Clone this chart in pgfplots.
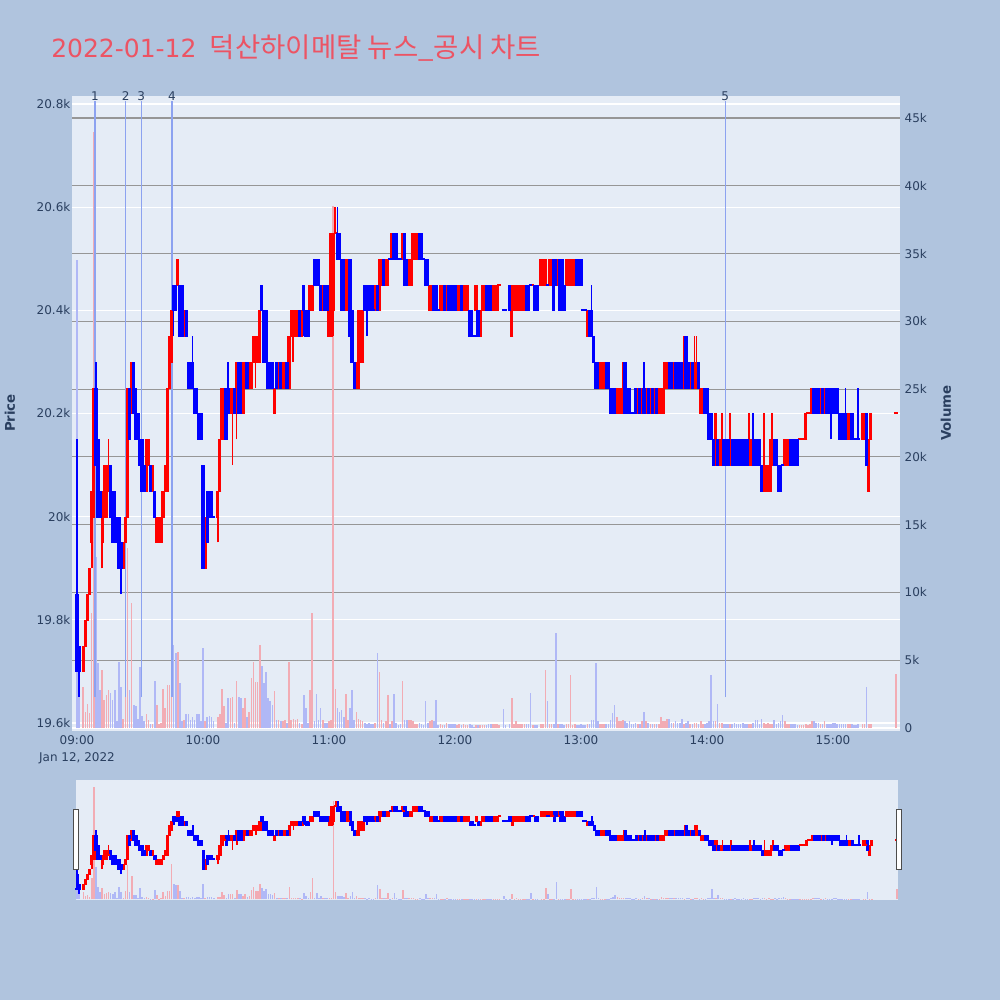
\documentclass[border=0pt]{standalone}
\usepackage{pgfplots}
\pgfplotsset{compat=1.18}
\usepackage{pgfplotstable}
\usepackage{fontspec}
\setmainfont{DejaVu Sans}
\newfontfamily\krfont[Scale=1.10]{Noto Sans CJK KR}
\definecolor{bgpaper}{RGB}{176,196,222}
\definecolor{bgplot}{RGB}{229,236,246}
\definecolor{tickc}{RGB}{42,63,95}
\definecolor{titlec}{RGB}{236,84,100}
\definecolor{vgrid}{RGB}{150,150,150}
\definecolor{newsc}{RGB}{140,162,240}
\definecolor{volred}{RGB}{242,172,180}
\definecolor{volblue}{RGB}{176,184,246}

\pgfplotstableread{
t d o h l c v
0 0 19850 20150 19700 19700 34500
1 0 19750 19750 19650 19700 3000
3 1 19700 19750 19700 19750 3000
4 1 19750 19800 19750 19800 1200
5 1 19800 19850 19800 19850 1800
6 1 19850 19900 19850 19900 1100
7 1 19950 20050 19900 20050 8500
8 1 20000 20250 20000 20250 44000
9 0 20250 20300 20100 20100 12600
10 0 20150 20150 20000 20000 4800
11 0 20050 20050 20000 20000 2800
12 1 19950 20050 19900 20050 4300
13 1 20000 20100 20000 20100 2100
14 1 20000 20100 20000 20100 2400
15 1 20050 20150 20050 20100 2800
16 0 20100 20100 20000 20000 2600
17 0 20050 20050 19950 19950 2100
18 0 20050 20050 19950 19950 2800
19 0 20000 20000 19950 19950 500
20 0 20000 20000 19900 19900 4900
21 0 19950 19950 19850 19900 3000
22 1 19900 19950 19900 19950 700
23 1 19950 20000 19950 20000 3300
24 1 20000 20250 20000 20250 13300
25 0 20250 20250 20150 20150 2800
26 1 20200 20300 20200 20300 9200
27 0 20300 20300 20200 20200 1700
28 0 20250 20250 20150 20150 1600
29 0 20200 20200 20150 20150 700
30 0 20150 20150 20100 20100 4500
31 0 20150 20150 20050 20050 900
32 0 20100 20100 20050 20050 500
33 1 20050 20150 20050 20150 1000
34 1 20100 20150 20100 20150 600
35 0 20100 20100 20050 20050 300
36 1 20050 20100 20050 20100 300
37 0 20050 20050 20000 20000 3500
38 1 19950 20000 19950 20000 1700
39 1 19950 20000 19950 20000 300
40 1 19950 20000 19950 20000 400
41 1 20000 20050 20000 20050 2900
42 1 20050 20100 20050 20100 1500
43 1 20050 20250 20050 20250 3200
44 1 20250 20350 20250 20350 3200
45 1 20300 20400 20300 20400 13900
46 0 20450 20450 20350 20400 6100
47 0 20450 20450 20400 20400 5500
48 1 20450 20500 20450 20500 5600
49 0 20450 20450 20350 20350 3300
50 0 20450 20450 20350 20350 500
51 1 20350 20400 20350 20400 600
52 0 20400 20400 20350 20350 1000
53 0 20300 20300 20250 20250 1000
54 0 20300 20300 20250 20250 600
55 0 20300 20350 20250 20250 800
56 0 20250 20250 20200 20200 600
57 0 20250 20250 20200 20200 1000
58 0 20200 20200 20150 20150 1000
59 0 20200 20200 20150 20150 500
60 0 20100 20100 19900 19900 5900
61 1 19900 20000 19900 20000 500
62 0 20050 20050 19950 19950 800
63 0 20050 20050 20000 20000 900
64 0 20050 20050 20000 20000 800
65 0 20000 20000 20000 20000 500
67 1 20000 20050 19950 20050 800
68 1 20050 20150 20050 20150 1000
69 1 20150 20250 20150 20250 2900
70 1 20200 20250 20200 20250 1600
71 0 20250 20250 20150 20150 400
72 0 20250 20300 20200 20200 2200
73 1 20200 20250 20200 20250 2200
74 1 20200 20250 20100 20250 2300
75 0 20250 20250 20200 20200 400
76 1 20200 20300 20150 20300 3500
77 0 20300 20300 20200 20200 2300
78 0 20300 20300 20200 20200 2200
79 1 20200 20300 20200 20300 1500
80 1 20250 20300 20250 20300 2200
81 0 20300 20300 20250 20250 800
82 1 20250 20300 20250 20300 1200
83 1 20250 20300 20250 20300 3700
84 1 20300 20350 20300 20350 4900
85 1 20300 20350 20250 20350 3400
86 1 20300 20350 20300 20350 3400
87 1 20300 20400 20300 20400 6100
88 0 20450 20450 20400 20400 4600
89 0 20400 20400 20300 20300 3300
90 0 20400 20400 20300 20300 4100
91 0 20300 20300 20250 20250 2200
92 0 20300 20300 20250 20250 2000
93 0 20300 20300 20250 20250 1700
94 1 20200 20250 20200 20250 2700
95 0 20300 20300 20250 20250 600
96 1 20250 20300 20250 20300 600
97 0 20300 20300 20250 20250 500
98 1 20250 20300 20250 20300 500
99 1 20250 20300 20250 20300 600
100 0 20300 20300 20250 20250 400
101 1 20250 20350 20250 20350 4900
102 1 20350 20400 20350 20400 600
103 1 20350 20400 20300 20400 700
104 1 20350 20400 20350 20400 600
105 1 20350 20400 20350 20400 700
106 0 20400 20400 20350 20350 400
107 1 20350 20400 20350 20400 300
108 0 20450 20450 20350 20400 2400
109 0 20400 20400 20350 20350 1500
110 0 20400 20400 20350 20350 400
111 1 20400 20450 20400 20450 2800
112 1 20400 20450 20400 20450 8500
113 0 20500 20500 20450 20450 500
114 0 20500 20500 20450 20450 2500
115 0 20500 20500 20450 20450 600
116 0 20450 20450 20400 20400 1500
117 1 20400 20450 20400 20450 600
118 0 20450 20450 20400 20400 400
119 0 20450 20450 20400 20400 400
120 1 20350 20450 20350 20450 500
121 1 20350 20550 20350 20550 600
122 1 20400 20550 20350 20550 38500
123 1 20550 20600 20550 20550 2900
124 0 20550 20600 20500 20500 1500
125 0 20550 20550 20500 20500 1200
126 0 20500 20500 20400 20400 1300
127 0 20500 20500 20400 20400 800
128 1 20400 20500 20400 20500 2500
129 1 20400 20500 20400 20500 600
130 0 20500 20500 20350 20350 1500
131 0 20400 20400 20300 20300 2800
132 0 20300 20300 20250 20250 600
133 1 20250 20300 20250 20300 1200
134 1 20250 20400 20250 20400 700
135 1 20300 20400 20300 20400 600
136 1 20300 20400 20300 20400 500
137 0 20450 20450 20400 20400 400
138 0 20450 20450 20350 20400 300
139 0 20450 20450 20400 20400 400
140 0 20450 20450 20400 20400 300
141 0 20400 20450 20400 20400 300
142 1 20400 20450 20400 20450 400
143 0 20450 20450 20400 20400 5500
144 1 20400 20500 20400 20500 4100
145 1 20450 20500 20450 20500 600
146 0 20500 20500 20450 20450 400
147 1 20450 20500 20450 20500 500
148 1 20450 20500 20450 20500 2400
149 0 20500 20500 20500 20500 300
150 1 20500 20550 20500 20550 500
151 0 20550 20550 20500 20500 2500
152 0 20550 20550 20500 20500 400
153 0 20500 20500 20500 20500 200
154 0 20500 20500 20500 20500 300
155 1 20500 20550 20500 20550 3500
156 0 20550 20550 20450 20450 600
157 0 20500 20500 20450 20450 600
158 1 20450 20500 20450 20500 600
159 1 20450 20500 20450 20500 600
160 1 20500 20550 20500 20550 500
161 1 20500 20550 20500 20550 300
162 1 20500 20550 20500 20550 300
163 0 20550 20550 20500 20500 400
164 0 20550 20550 20500 20500 300
165 0 20500 20500 20500 20500 200
166 0 20500 20500 20450 20450 2000
167 0 20500 20500 20450 20450 400
168 1 20400 20450 20400 20450 500
169 1 20400 20450 20400 20450 600
170 0 20450 20450 20400 20400 500
171 0 20450 20450 20400 20400 2100
172 0 20400 20400 20400 20400 200
173 1 20400 20450 20400 20450 300
174 1 20400 20450 20400 20450 200
175 0 20450 20450 20400 20400 200
176 1 20400 20450 20400 20450 400
177 0 20450 20450 20400 20400 300
178 0 20450 20450 20400 20400 300
179 0 20450 20450 20400 20400 300
180 0 20450 20450 20400 20400 300
181 1 20400 20450 20400 20450 200
182 1 20400 20450 20400 20450 300
183 0 20450 20450 20400 20400 200
184 1 20400 20450 20400 20450 300
185 1 20400 20450 20400 20450 200
186 1 20400 20450 20400 20450 200
187 0 20400 20400 20350 20350 300
188 0 20400 20400 20350 20350 200
189 0 20350 20350 20350 20350 100
190 1 20400 20450 20400 20450 200
191 0 20400 20400 20350 20350 200
192 1 20350 20400 20350 20400 200
193 1 20400 20450 20400 20450 200
194 1 20400 20450 20400 20450 200
195 0 20450 20450 20400 20400 200
196 0 20450 20450 20400 20400 300
197 0 20450 20450 20400 20400 300
198 1 20400 20450 20400 20450 300
199 1 20400 20450 20400 20450 300
200 1 20400 20450 20400 20450 300
201 1 20450 20450 20450 20450 200
203 0 20400 20400 20400 20400 1400
204 0 20400 20400 20400 20400 200
206 0 20450 20450 20400 20400 300
207 1 20350 20450 20350 20450 2200
208 1 20400 20450 20400 20450 300
209 1 20400 20450 20400 20450 500
210 1 20400 20450 20400 20450 300
211 1 20400 20450 20400 20450 300
212 1 20400 20450 20400 20450 300
213 1 20400 20450 20400 20450 300
214 0 20450 20450 20400 20400 300
215 0 20450 20450 20400 20400 300
216 0 20450 20450 20450 20450 2600
217 1 20450 20450 20450 20450 200
218 0 20450 20450 20400 20400 200
219 0 20450 20450 20400 20400 200
221 1 20450 20500 20450 20500 300
222 1 20450 20500 20450 20500 300
223 1 20450 20500 20450 20500 4300
224 0 20450 20450 20450 20450 2000
225 1 20450 20500 20450 20500 300
226 1 20450 20500 20450 20500 300
227 0 20500 20500 20400 20400 300
228 0 20500 20500 20450 20450 7000
229 1 20450 20500 20450 20500 300
230 0 20500 20500 20400 20400 300
231 0 20500 20500 20400 20400 300
232 0 20450 20450 20400 20400 200
233 1 20450 20500 20450 20500 300
234 1 20450 20500 20450 20500 300
235 1 20450 20500 20450 20500 3900
236 1 20450 20500 20450 20500 200
237 1 20450 20500 20450 20500 300
238 0 20500 20500 20450 20450 200
239 0 20500 20500 20450 20450 200
240 0 20500 20500 20450 20450 300
241 0 20400 20400 20400 20400 200
242 0 20400 20400 20400 20400 200
243 1 20350 20400 20350 20400 300
244 0 20400 20400 20350 20350 300
245 0 20400 20450 20350 20350 600
246 0 20350 20350 20300 20300 600
247 0 20300 20300 20250 20250 4800
248 0 20300 20300 20250 20250 500
249 1 20250 20300 20250 20300 300
250 1 20250 20300 20250 20300 300
251 1 20250 20300 20250 20300 300
252 0 20300 20300 20250 20250 300
253 0 20300 20300 20250 20250 300
254 0 20250 20250 20200 20200 600
255 0 20250 20250 20200 20200 1100
256 0 20250 20250 20200 20200 1700
257 1 20200 20250 20200 20250 800
258 1 20200 20250 20200 20250 500
259 1 20200 20250 20200 20250 500
260 1 20200 20300 20200 20250 600
261 0 20300 20300 20200 20200 500
262 0 20250 20250 20200 20200 400
263 0 20250 20250 20200 20200 500
264 0 20200 20200 20200 20200 300
265 0 20200 20200 20200 20200 300
266 0 20250 20250 20200 20200 400
267 1 20200 20250 20200 20250 300
268 0 20250 20250 20200 20200 300
269 1 20200 20250 20200 20250 500
270 0 20250 20300 20200 20200 1200
271 1 20200 20250 20200 20250 500
272 0 20250 20250 20200 20200 400
273 1 20200 20250 20200 20250 300
274 0 20250 20250 20200 20200 300
275 1 20200 20250 20200 20250 300
276 0 20250 20250 20200 20200 300
277 1 20200 20250 20200 20250 300
278 1 20200 20250 20200 20250 800
279 1 20200 20250 20200 20250 500
280 1 20250 20300 20250 20300 500
281 1 20250 20300 20250 20300 700
282 0 20300 20300 20250 20250 700
283 0 20300 20300 20250 20250 400
284 1 20250 20300 20250 20300 400
285 0 20300 20300 20250 20250 500
286 0 20300 20300 20250 20250 400
287 0 20300 20300 20250 20250 400
288 0 20300 20300 20250 20250 700
289 1 20250 20350 20250 20300 300
290 0 20350 20350 20250 20250 400
291 0 20300 20300 20250 20250 500
292 1 20250 20300 20250 20300 300
293 0 20300 20300 20250 20250 300
294 1 20250 20350 20250 20300 400
295 1 20250 20350 20250 20300 400
296 0 20300 20300 20250 20250 300
297 1 20200 20250 20200 20250 500
298 1 20200 20250 20200 20250 300
299 0 20250 20250 20200 20200 300
300 0 20250 20250 20200 20200 400
301 0 20200 20200 20150 20150 500
302 0 20200 20200 20150 20150 3900
303 0 20150 20150 20100 20100 500
304 1 20100 20200 20100 20200 500
305 0 20150 20150 20100 20100 1800
306 1 20100 20150 20100 20150 400
307 1 20100 20200 20100 20150 400
308 0 20150 20150 20100 20100 300
309 0 20150 20150 20100 20100 300
310 0 20150 20150 20100 20100 300
311 1 20100 20200 20100 20150 300
312 0 20150 20150 20100 20100 300
313 0 20150 20150 20100 20100 400
314 0 20150 20150 20100 20100 300
315 0 20150 20150 20100 20100 300
316 0 20150 20150 20100 20100 300
317 0 20150 20150 20100 20100 400
318 0 20150 20150 20100 20100 300
319 0 20150 20150 20100 20100 300
320 1 20100 20200 20100 20150 300
321 1 20100 20150 20100 20150 300
322 0 20150 20200 20100 20100 400
323 0 20150 20150 20100 20100 600
324 0 20150 20150 20100 20100 600
325 0 20150 20150 20100 20100 300
326 0 20100 20100 20050 20050 700
327 1 20050 20200 20050 20100 400
328 1 20050 20100 20050 20100 300
329 1 20050 20100 20050 20100 400
330 1 20050 20150 20050 20100 300
331 1 20100 20200 20100 20150 300
332 0 20150 20150 20100 20100 600
333 0 20150 20150 20100 20100 300
334 0 20100 20100 20050 20050 400
335 0 20100 20100 20050 20050 500
336 0 20100 20100 20100 20100 960
337 1 20100 20150 20100 20150 500
338 1 20100 20150 20100 20150 300
339 1 20100 20150 20100 20150 300
340 0 20150 20150 20100 20100 300
341 0 20150 20150 20100 20100 300
342 0 20150 20150 20100 20100 300
343 0 20150 20150 20100 20100 200
344 1 20150 20150 20150 20150 200
345 1 20150 20150 20150 20150 200
346 1 20150 20150 20150 20150 200
347 1 20150 20200 20150 20200 300
348 1 20200 20200 20200 20200 200
349 1 20200 20200 20200 20200 300
350 1 20200 20250 20200 20250 500
351 0 20250 20250 20200 20200 500
352 0 20250 20250 20200 20200 400
353 0 20250 20250 20200 20200 400
354 1 20200 20250 20200 20250 300
355 0 20250 20250 20200 20200 300
356 1 20200 20250 20200 20250 500
357 0 20250 20250 20200 20200 300
358 0 20250 20250 20200 20200 300
359 0 20250 20250 20150 20200 300
360 0 20250 20250 20200 20200 400
361 0 20250 20250 20200 20200 400
362 0 20250 20250 20200 20200 300
363 0 20200 20200 20150 20150 300
364 0 20200 20200 20150 20150 300
365 0 20200 20200 20150 20150 300
366 0 20200 20250 20150 20150 300
367 1 20150 20200 20150 20200 300
368 1 20150 20200 20150 20200 300
369 0 20200 20200 20150 20150 300
370 0 20150 20150 20150 20150 200
371 0 20150 20150 20150 20150 200
372 0 20150 20250 20150 20150 300
374 1 20150 20200 20150 20200 300
375 1 20150 20200 20150 20200 300
376 0 20200 20200 20100 20100 3000
377 1 20050 20150 20050 20150 300
378 1 20150 20200 20150 20200 300
390 1 20200 20200 20200 20200 4000
}\data

\pgfplotsset{
  wick/.style={only marks, mark=*, mark size=0.1pt, mark options={draw opacity=0, fill opacity=0},
    restrict y to domain=10000:30000,
    error bars/y dir=plus, error bars/y explicit, error bars/error mark=none,
    error bars/error bar style={line width=1.3pt, color=#1, opacity=1}},
  body/.style={only marks, mark=-, mark size=1.25pt, mark options={color=#1, line width=1.5pt},
    restrict y to domain=10000:30000,
    error bars/y dir=plus, error bars/y explicit, error bars/error mark=none,
    error bars/error bar style={line width=2.5pt, color=#1}},
  mainbox/.style={at={(54pt,201.75pt)}, anchor=south west, scale only axis,
    width=621pt, height=476.25pt, xmin=-2.38, xmax=391.9,
    axis line style={draw=none}, major tick length=0pt,
    scaled x ticks=false, scaled y ticks=false,
    tick label style={font=\fontsize{9}{12.75}\selectfont, text=tickc}},
  slidebox/.style={at={(57pt,75pt)}, anchor=south west, scale only axis,
    width=616.5pt, height=90pt, xmin=-0.5, xmax=390.5,
    scaled x ticks=false, scaled y ticks=false,
    axis line style={draw=none}, major tick length=0pt, xtick=\empty, ytick=\empty},
  pricey/.style={ymin=19584.5, ymax=20815.5},
  voly/.style={ymin=-221, ymax=46623},
}

\newcommand\candleplots{%
\addplot[wick=red] table[x=t, y expr=\thisrow{d}*\thisrow{l}, y error plus expr=\thisrow{h}-\thisrow{l}]{\data};
\addplot[body=red] table[x=t, y expr=\thisrow{d}*\thisrow{o}, y error plus expr=\thisrow{c}-\thisrow{o}]{\data};
\addplot[wick=blue] table[x=t, y expr=(1-\thisrow{d})*\thisrow{l}, y error plus expr=\thisrow{h}-\thisrow{l}]{\data};
\addplot[body=blue] table[x=t, y expr=(1-\thisrow{d})*\thisrow{c}, y error plus expr=\thisrow{o}-\thisrow{c}]{\data};
}
\newcommand\volplots{%
\addplot[ycomb, no marks, line width=1.2pt, color=volred, restrict y to domain=1:100000] table[x=t, y expr=\thisrow{d}*\thisrow{v}]{\data};
\addplot[ycomb, no marks, line width=1.2pt, color=volblue, restrict y to domain=1:100000] table[x=t, y expr=(1-\thisrow{d})*\thisrow{v}]{\data};
}

\begin{document}
\begin{tikzpicture}[font=\fontsize{9}{10.5}\selectfont]
\fill[bgpaper] (0,0) rectangle (750pt,750pt);

% title
\node[anchor=base west, inner sep=0pt, text=titlec, font=\fontsize{18.75}{22}\selectfont]
  at (38.25pt,706.9pt) {2022-01-12\hspace{10pt}{\krfont 덕산하이메탈 뉴스\_공시 차트}};
\node[rotate=90, text=tickc, font=\fontsize{10}{12}\selectfont\bfseries] at (7.5pt,440.25pt) {Price};
\node[rotate=90, text=tickc, font=\fontsize{10}{12}\selectfont\bfseries] at (709.5pt,440.25pt) {Volume};

% main: price background + white grid + left labels
\begin{axis}[mainbox, pricey, axis background/.style={fill=bgplot},
  xtick=\empty, ytick={19600,19800,20000,20200,20400,20600,20800},
  yticklabels={19.6k,19.8k,20k,20.2k,20.4k,20.6k,20.8k},
  yticklabel style={inner xsep=1pt},
  ymajorgrids, major grid style={white, line width=0.9pt}]
\addplot[draw=none, mark=none] coordinates {(0,20000)};
\end{axis}

% main: volume axis
\begin{axis}[mainbox, voly, hide x axis, axis y line*=right,
  ytick={0,5000,10000,15000,20000,25000,30000,35000,40000,45000},
  yticklabels={0,5k,10k,15k,20k,25k,30k,35k,40k,45k},
  ymajorgrids, major grid style={vgrid, line width=0.9pt}]
\addplot[white, line width=1.4pt] coordinates {(-2.38,0) (391.9,0)};
\volplots
\end{axis}

% main: candles, news markers, time axis
\begin{axis}[mainbox, pricey, ytick=\empty, clip mode=individual,
  xtick={0,60,120,180,240,300,360},
  xticklabels={{09:00\\Jan 12, 2022},10:00,11:00,12:00,13:00,14:00,15:00},
  xticklabel style={align=center}]
\addplot[newsc, line width=1.1pt] coordinates {(8.5,19650) (8.5,20805)};
\addplot[newsc, line width=1.1pt] coordinates {(23.2,19650) (23.2,20805)};
\addplot[newsc, line width=1.1pt] coordinates {(30.6,19650) (30.6,20805)};
\addplot[newsc, line width=1.1pt] coordinates {(45.2,19650) (45.2,20805)};
\addplot[newsc, line width=1.1pt] coordinates {(308.7,19650) (308.7,20805)};
\candleplots
\node[text=tickc, anchor=base, inner sep=0pt] at (axis cs:8.5,20806) {1};
\node[text=tickc, anchor=base, inner sep=0pt] at (axis cs:23.2,20806) {2};
\node[text=tickc, anchor=base, inner sep=0pt] at (axis cs:30.6,20806) {3};
\node[text=tickc, anchor=base, inner sep=0pt] at (axis cs:45.2,20806) {4};
\node[text=tickc, anchor=base, inner sep=0pt] at (axis cs:308.7,20806) {5};
\end{axis}

% range slider
\begin{axis}[slidebox, voly, axis background/.style={fill=bgplot}]
\volplots
\end{axis}
\begin{axis}[slidebox, pricey]
\candleplots
\end{axis}
\filldraw[fill=white, draw=black!70, line width=0.75pt] (54.75pt,97.5pt) rectangle (58.5pt,142.5pt);
\filldraw[fill=white, draw=black!70, line width=0.75pt] (672pt,97.5pt) rectangle (675.75pt,142.5pt);

\pgfresetboundingbox
\useasboundingbox (0,0) rectangle (750pt,750pt);
\end{tikzpicture}
\end{document}
